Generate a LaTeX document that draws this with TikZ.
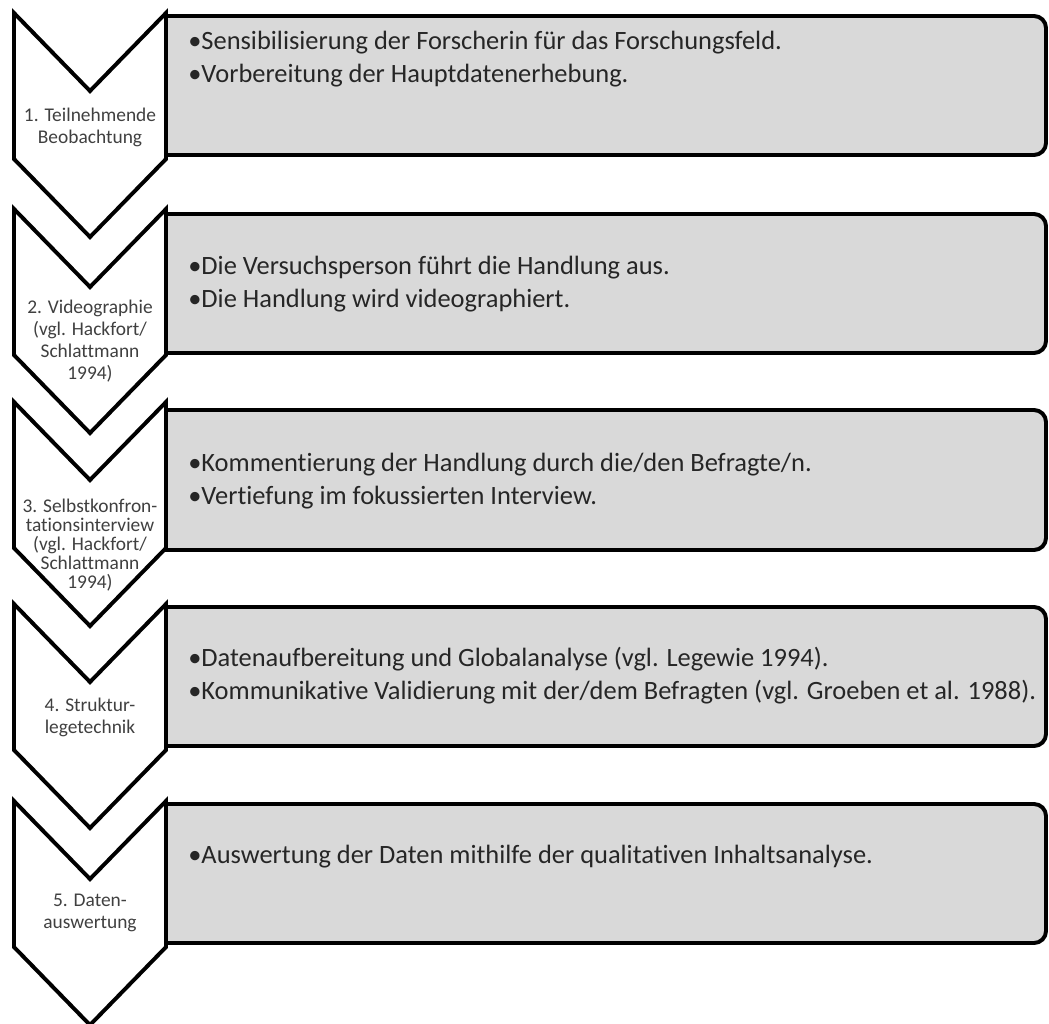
\documentclass[tikz,border=0pt]{standalone}
\usepackage{fontspec}
\setmainfont[Ligatures=NoCommon]{Carlito}
\usepackage{tikz}
\usetikzlibrary{positioning}
\definecolor{boxgray}{RGB}{217,217,217}
\definecolor{textgray}{RGB}{38,38,38}
\definecolor{labelgray}{RGB}{64,64,64}
\tikzset{
    chevron/.style={draw=black, fill=white, line width=2.8pt},
    stepbox/.style={draw=black, fill=boxgray, line width=2.8pt},
    bullets/.style={anchor=west, align=left, text=textgray, inner sep=0pt, font=\fontsize{18.8}{23.5}\selectfont},
    steplabel/.style={align=center, text=labelgray, inner sep=0pt, font=\fontsize{13.8}{15.6}\selectfont},
}

\begin{document}
\begin{tikzpicture}[x=0.025cm, y=-0.025cm]
    \useasboundingbox (0,0) rectangle (1049,1023);

    % Grey boxes (square left, rounded right)
    \foreach \a/\b in {16/155, 214/353, 410/550, 607/746, 804/943}
        \draw[stepbox] (166,\a) -- (1034,\a) arc[start angle=270, end angle=360, radius=12]
            -- (1046,\b-12) arc[start angle=0, end angle=90, radius=12] -- (166,\b) -- cycle;

    % Chevrons
    \foreach \t in {13, 209, 402, 604, 801}
        \draw[chevron] (14,\t) -- (90,\t+78) -- (166,\t) -- (166,\t+146) -- (90,\t+224) -- (14,\t+146) -- cycle;

    % Step labels
    \node[steplabel] (l1) at (90,127) {1. Teilnehmende\\Beobachtung};
    \node[steplabel] (l2) at (90,341) {2. Videographie\\(vgl. Hackfort/\\Schlattmann\\1994)};
    \node[steplabel, font=\fontsize{13.8}{13.4}\selectfont] (l3) at (90,545) {3. Selbstkonfron-\\tationsinterview\\(vgl. Hackfort/\\Schlattmann\\1994)};
    \node[steplabel] (l4) at (90,717) {4. Struktur-\\legetechnik};
    \node[steplabel] (l5) at (90,913) {5. Daten-\\auswertung};

    % Box texts
    \node[bullets] (b1) at (188,59) {•Sensibilisierung der Forscherin für das Forschungsfeld.\\•Vorbereitung der Hauptdatenerhebung.};
    \node[bullets] (b2) at (188,284) {•Die Versuchsperson führt die Handlung aus.\\•Die Handlung wird videographiert.};
    \node[bullets] (b3) at (188,481) {•Kommentierung der Handlung durch die/den Befragte/n.\\•Vertiefung im fokussierten Interview.};
    \node[bullets] (b4) at (188,676) {•Datenaufbereitung und Globalanalyse (vgl. Legewie 1994).\\•Kommunikative Validierung mit der/dem Befragten (vgl. Groeben et al. 1988).};
    \node[bullets] (b5) at (188,857) {•Auswertung der Daten mithilfe der qualitativen Inhaltsanalyse.};
\end{tikzpicture}
\end{document}
